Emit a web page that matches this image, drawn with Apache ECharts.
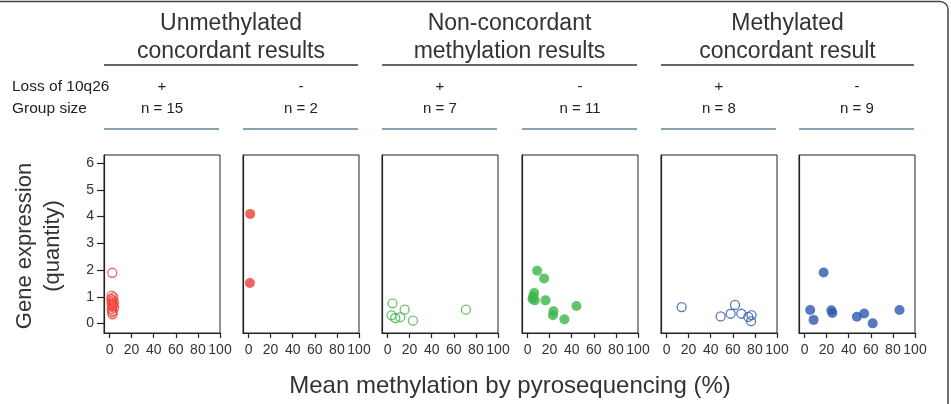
<!DOCTYPE html>
<html>
<head>
<meta charset="utf-8">
<script src="https://cdn.jsdelivr.net/npm/echarts@6/dist/echarts.min.js"></script>
<style>
  html, body { margin: 0; padding: 0; background: #fff; }
  #chart { width: 951px; height: 404px; }
</style>
</head>
<body>
<div id="chart"></div>
<script>
// tick labels
var xTicks = [0, 20, 40, 60, 80, 100];
var yTicks = [0, 1, 2, 3, 4, 5, 6];

// header texts
var groupTitles = [
  "Unmethylated\nconcordant results",
  "Non-concordant\nmethylation results",
  "Methylated\nconcordant result"
];
var lossLabels = ["+", "-", "+", "-", "+", "-"];
var groupSizes = ["n = 15", "n = 2", "n = 7", "n = 11", "n = 8", "n = 9"];

// [methylation %, gene expression]
var unmethPlus = [
  [2.5, 1.9], [2.0, 1.05], [3.5, 0.98], [1.5, 0.92], [3.0, 0.87],
  [2.2, 0.82], [4.0, 0.78], [1.8, 0.74], [3.2, 0.70], [2.6, 0.65],
  [4.2, 0.60], [2.0, 0.55], [3.0, 0.48], [2.4, 0.42], [2.8, 0.35]
];
var unmethMinus = [[1.5, 4.1], [1.2, 1.52]];
var nonConcPlus = [
  [4.5, 0.76], [3.6, 0.31], [7, 0.21], [11.5, 0.24], [15.5, 0.52], [23, 0.11], [71, 0.52]
];
var nonConcMinus = [
  [8.7, 1.98], [15, 1.69], [6, 1.14], [5, 1.0], [4.5, 0.92], [6.6, 0.87],
  [16.3, 0.87], [23.5, 0.46], [23, 0.31], [44.3, 0.66], [33.4, 0.16]
];
var methPlus = [
  [13.7, 0.62], [49, 0.27], [58, 0.37], [62, 0.70], [67.7, 0.37], [74, 0.25], [77, 0.32], [76.5, 0.09]
];
var methMinus = [
  [17.3, 1.91], [5.1, 0.51], [8.2, 0.14], [24.3, 0.50], [25.2, 0.40], [47.4, 0.26], [54, 0.38], [61.7, 0.01], [86, 0.51]
];

var red = "#ef3e36", green = "#3db54a", blue = "#2c57b0";
var panelData = [unmethPlus, unmethMinus, nonConcPlus, nonConcMinus, methPlus, methMinus];
var panelColor = [red, red, green, green, blue, blue];
var panelHollow = [true, false, true, false, true, false];

var panelLeft = [104, 243, 382, 522, 661, 799];
var panelW = 116, panelTop = 155, panelH = 178;
var font = "Liberation Sans, Arial, sans-serif";

var chart = echarts.init(document.getElementById("chart"));

var grids = [], xAxes = [], yAxes = [], series = [], graphics = [];

panelLeft.forEach(function (left, i) {
  grids.push({
    left: left, top: panelTop, width: panelW, height: panelH,
    show: true, borderColor: "#222", borderWidth: 1, backgroundColor: "#fff"
  });
  xAxes.push({
    gridIndex: i, type: "value", min: -5, max: 100,
    axisLine: { show: true, onZero: false, lineStyle: { color: "#222", width: 1.2 } },
    axisTick: { show: true, length: 5, customValues: xTicks, lineStyle: { color: "#222", width: 1.2 } },
    axisLabel: { customValues: xTicks, margin: 10, fontSize: 14, color: "#333", fontFamily: font, hideOverlap: false },
    splitLine: { show: false }
  });
  yAxes.push({
    gridIndex: i, type: "value", min: -0.35, max: 6.3,
    axisLine: { show: true, onZero: false, lineStyle: { color: "#222", width: 1.2 } },
    axisTick: { show: i === 0, length: 7, customValues: yTicks, lineStyle: { color: "#222", width: 1.2 } },
    axisLabel: { show: i === 0, customValues: yTicks, margin: 10, fontSize: 14, color: "#333", fontFamily: font },
    splitLine: { show: false }
  });
  var c = panelColor[i];
  series.push({
    type: "scatter", xAxisIndex: i, yAxisIndex: i,
    data: panelData[i],
    symbol: "circle", symbolSize: panelHollow[i] ? 9 : 10,
    itemStyle: panelHollow[i]
      ? { color: "rgba(0,0,0,0)", borderColor: c, borderWidth: 1.3 }
      : { color: c, borderWidth: 0 }
  });

  var cx = left + panelW / 2;
  graphics.push({
    type: "text", x: cx, y: 87,
    style: { text: lossLabels[i], font: "15px " + font, fill: "#222", align: "center", verticalAlign: "middle" }
  });
  graphics.push({
    type: "text", x: cx, y: 109,
    style: { text: groupSizes[i], font: "15px " + font, fill: "#222", align: "center", verticalAlign: "middle" }
  });
  graphics.push({
    type: "line",
    shape: { x1: left, y1: 129, x2: left + panelW - 1, y2: 129 },
    style: { stroke: "#87a4ae", lineWidth: 2 }
  });
});

// group titles with black underlines
[0, 1, 2].forEach(function (g) {
  var x1 = panelLeft[g * 2], x2 = panelLeft[g * 2 + 1] + panelW - 1;
  graphics.push({
    type: "text", x: (x1 + x2) / 2, y: 38,
    style: { text: groupTitles[g], font: "23px " + font, fill: "#333", align: "center", verticalAlign: "middle", lineHeight: 28 }
  });
  graphics.push({
    type: "line",
    shape: { x1: x1, y1: 65, x2: x2, y2: 65 },
    style: { stroke: "#333", lineWidth: 1.6 }
  });
});

graphics.push({
  type: "text", x: 12, y: 87,
  style: { text: "Loss of 10q26", font: "15.5px " + font, fill: "#222", verticalAlign: "middle" }
});
graphics.push({
  type: "text", x: 12, y: 109,
  style: { text: "Group size", font: "15.5px " + font, fill: "#222", verticalAlign: "middle" }
});
// y axis title
graphics.push({
  type: "text", x: 39, y: 246, rotation: Math.PI / 2,
  style: { text: "Gene expression\n(quantity)", font: "22px " + font, fill: "#333", align: "center", verticalAlign: "middle", lineHeight: 28 }
});
// x axis title
graphics.push({
  type: "text", x: 510, y: 386,
  style: { text: "Mean methylation by pyrosequencing (%)", font: "24px " + font, fill: "#333", align: "center", verticalAlign: "middle" }
});
// figure frame
graphics.push({
  type: "rect", z: -1,
  shape: { x: -20, y: 1.5, width: 968, height: 500, r: 8 },
  style: { fill: "none", stroke: "#444", lineWidth: 1.5 }
});

chart.setOption({
  animation: false,
  grid: grids,
  xAxis: xAxes,
  yAxis: yAxes,
  series: series,
  graphic: graphics
});
</script>
</body>
</html>
